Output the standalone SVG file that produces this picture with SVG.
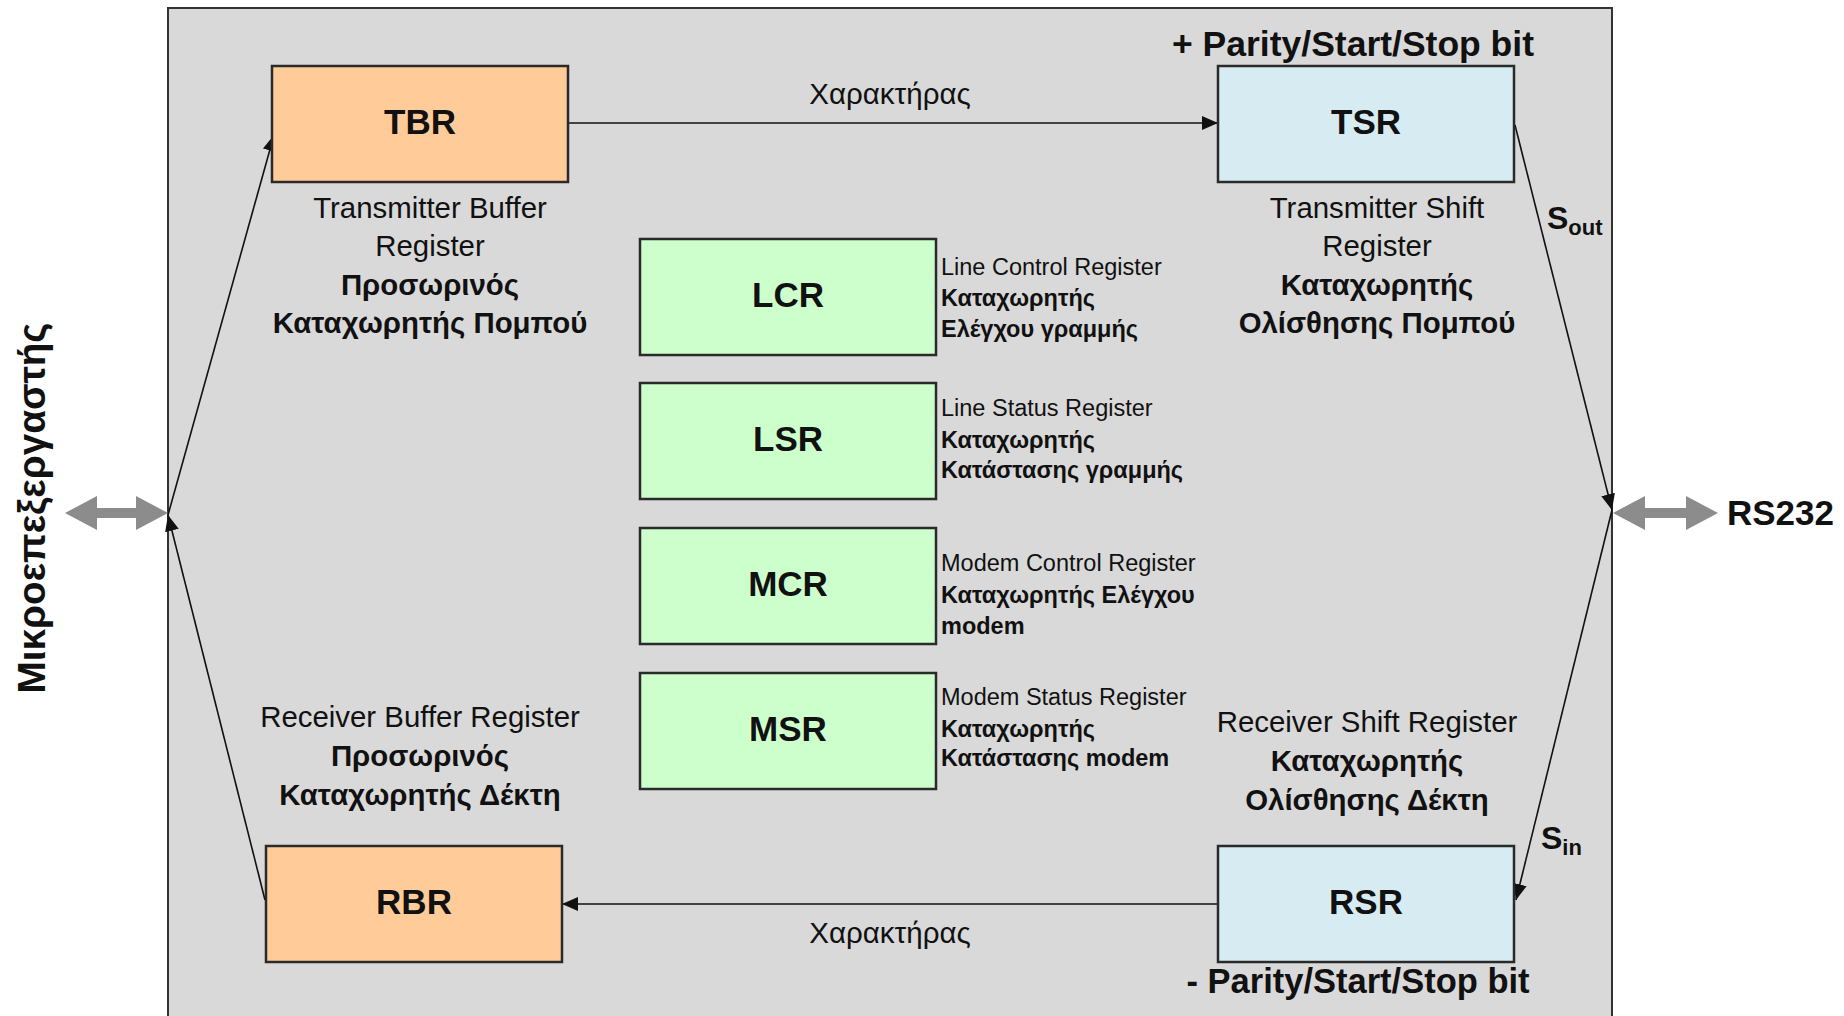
<svg xmlns="http://www.w3.org/2000/svg" width="1844" height="1016" viewBox="0 0 1844 1016">
<style>
.box{stroke:#2a2a2a;stroke-width:2.5}
.orange{fill:#FFCC99}
.blue{fill:#D6ECF2}
.green{fill:#CCFFCC}
.t{font-family:"Liberation Sans",Arial,sans-serif;fill:#111}
.lbl{font-size:35px;font-weight:bold;text-anchor:middle}
.d{font-size:29.4px;text-anchor:middle}
.b{font-weight:bold}
.s{font-size:23.5px}
.wire{stroke:#111;stroke-width:1.6;fill:none}
.bus{fill:#8c8c8c}
</style>
<defs>
<marker id="ah" markerUnits="userSpaceOnUse" markerWidth="18" markerHeight="16" refX="16" refY="8" orient="auto">
<path d="M0,1 L16,8 L0,15 z" fill="#111"/>
</marker>
</defs>
<rect width="1844" height="1016" fill="#fff"/>
<g id="frame">
<rect x="168" y="8" width="1444" height="1020" fill="#d9d9d9" stroke="#333" stroke-width="2"/>
</g>

<g id="connectors">
<line class="wire" x1="568" y1="123" x2="1218" y2="123" marker-end="url(#ah)"/>
<line class="wire" x1="1218" y1="904" x2="562" y2="904" marker-end="url(#ah)"/>
<line class="wire" x1="168" y1="515" x2="274" y2="135" marker-end="url(#ah)"/>
<line class="wire" x1="265" y1="900" x2="168" y2="515" marker-end="url(#ah)"/>
<line class="wire" x1="1515" y1="125" x2="1612" y2="510" marker-end="url(#ah)"/>
<line class="wire" x1="1612" y1="510" x2="1516" y2="900" marker-end="url(#ah)"/>
<text class="t" x="890" y="104" font-size="29.5" text-anchor="middle">Χαρακτήρας</text>
<text class="t" x="890" y="943" font-size="29.5" text-anchor="middle">Χαρακτήρας</text>
<text class="t b" x="1547" y="229" font-size="32">S<tspan font-size="22" dy="6">out</tspan></text>
<text class="t b" x="1541" y="849" font-size="32">S<tspan font-size="22" dy="6">in</tspan></text>
</g>

<g id="cpu">
<polygon class="bus" points="65,513 97,496 97,508 136,508 136,496 168,513 136,530 136,518 97,518 97,530"/>
<text class="t b" transform="translate(45,508) rotate(-90)" font-size="39" text-anchor="middle" textLength="371" lengthAdjust="spacingAndGlyphs">Μικροεπεξεργαστής</text>
</g>

<g id="rs232">
<polygon class="bus" points="1613,513 1645,496 1645,508 1686,508 1686,496 1718,513 1686,530 1686,518 1645,518 1645,530"/>
<text class="t b" x="1727" y="525" font-size="35">RS232</text>
</g>

<g id="TBR">
<rect class="box orange" x="272" y="66" width="296" height="116"/>
<text class="t lbl" x="420" y="134">TBR</text>
<text class="t d" x="430" y="218">Transmitter Buffer</text>
<text class="t d" x="430" y="256">Register</text>
<text class="t d b" x="430" y="295">Προσωρινός</text>
<text class="t d b" x="430" y="333">Καταχωρητής Πομπού</text>
</g>

<g id="TSR">
<rect class="box blue" x="1218" y="66" width="296" height="116"/>
<text class="t lbl" x="1366" y="134">TSR</text>
<text class="t b" x="1353" y="56" font-size="35.5" text-anchor="middle">+ Parity/Start/Stop bit</text>
<text class="t d" x="1377" y="218">Transmitter Shift</text>
<text class="t d" x="1377" y="256">Register</text>
<text class="t d b" x="1377" y="295">Καταχωρητής</text>
<text class="t d b" x="1377" y="333">Ολίσθησης Πομπού</text>
</g>

<g id="RBR">
<rect class="box orange" x="266" y="846" width="296" height="116"/>
<text class="t lbl" x="414" y="914">RBR</text>
<text class="t d" x="420" y="727">Receiver Buffer Register</text>
<text class="t d b" x="420" y="766">Προσωρινός</text>
<text class="t d b" x="420" y="805">Καταχωρητής Δέκτη</text>
</g>

<g id="RSR">
<rect class="box blue" x="1218" y="846" width="296" height="116"/>
<text class="t lbl" x="1366" y="914">RSR</text>
<text class="t d" x="1367" y="732">Receiver Shift Register</text>
<text class="t d b" x="1367" y="771">Καταχωρητής</text>
<text class="t d b" x="1367" y="810">Ολίσθησης Δέκτη</text>
<text class="t b" x="1358" y="993" font-size="34.5" text-anchor="middle">- Parity/Start/Stop bit</text>
</g>

<g id="LCR">
<rect class="box green" x="640" y="239" width="296" height="116"/>
<text class="t lbl" x="788" y="307">LCR</text>
<text class="t s" x="941" y="275">Line Control Register</text>
<text class="t s b" x="941" y="306">Καταχωρητής</text>
<text class="t s b" x="941" y="337">Ελέγχου γραμμής</text>
</g>

<g id="LSR">
<rect class="box green" x="640" y="383" width="296" height="116"/>
<text class="t lbl" x="788" y="451">LSR</text>
<text class="t s" x="941" y="416">Line Status Register</text>
<text class="t s b" x="941" y="448">Καταχωρητής</text>
<text class="t s b" x="941" y="478">Κατάστασης γραμμής</text>
</g>

<g id="MCR">
<rect class="box green" x="640" y="528" width="296" height="116"/>
<text class="t lbl" x="788" y="596">MCR</text>
<text class="t s" x="941" y="571">Modem Control Register</text>
<text class="t s b" x="941" y="603">Καταχωρητής Ελέγχου</text>
<text class="t s b" x="941" y="634">modem</text>
</g>

<g id="MSR">
<rect class="box green" x="640" y="673" width="296" height="116"/>
<text class="t lbl" x="788" y="741">MSR</text>
<text class="t s" x="941" y="705">Modem Status Register</text>
<text class="t s b" x="941" y="737">Καταχωρητής</text>
<text class="t s b" x="941" y="766">Κατάστασης modem</text>
</g>
</svg>
